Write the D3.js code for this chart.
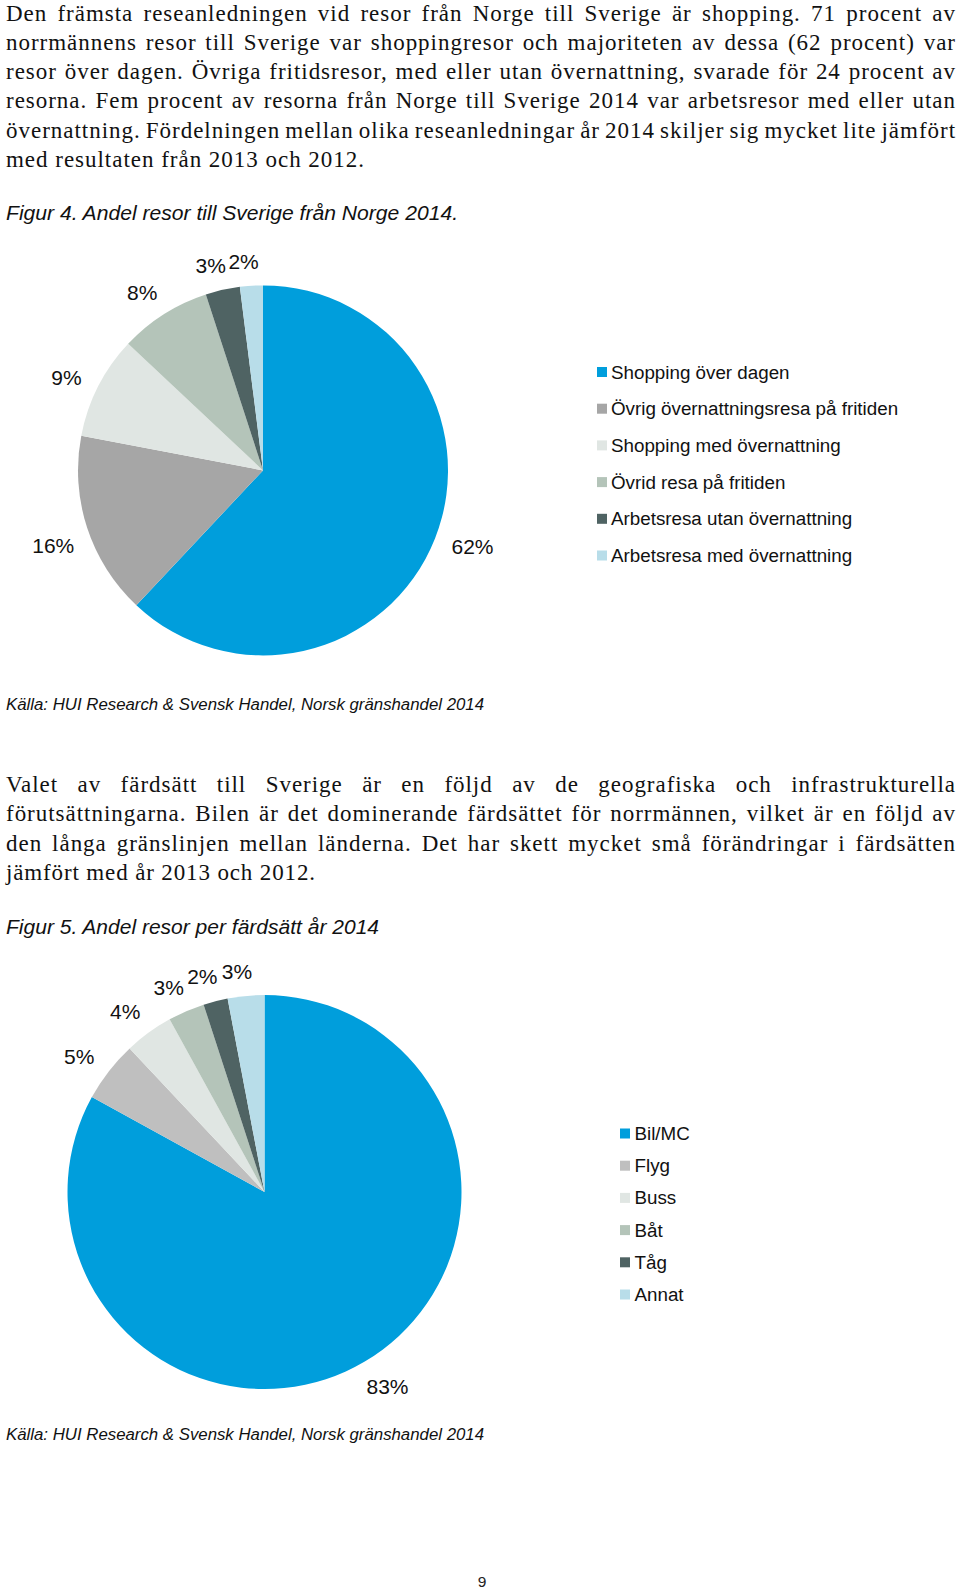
<!DOCTYPE html>
<html><head><meta charset="utf-8">
<script src="https://cdn.jsdelivr.net/npm/d3@7"></script>
<style>body{margin:0;background:#fff}</style>
</head><body><svg id="page" width="960" height="1590"></svg>
<script>
// ---------- DATA ----------
const para1Lines = [
  "Den främsta reseanledningen vid resor från Norge till Sverige är shopping. 71 procent av",
  "norrmännens resor till Sverige var shoppingresor och majoriteten av dessa (62 procent) var",
  "resor över dagen. Övriga fritidsresor, med eller utan övernattning, svarade för 24 procent av",
  "resorna. Fem procent av resorna från Norge till Sverige 2014 var arbetsresor med eller utan",
  "övernattning. Fördelningen mellan olika reseanledningar år 2014 skiljer sig mycket lite jämfört",
  "med resultaten från 2013 och 2012."
];
const para2Lines = [
  "Valet av färdsätt till Sverige är en följd av de geografiska och infrastrukturella",
  "förutsättningarna. Bilen är det dominerande färdsättet för norrmännen, vilket är en följd av",
  "den långa gränslinjen mellan länderna. Det har skett mycket små förändringar i färdsätten",
  "jämfört med år 2013 och 2012."
];
const fig4Title = "Figur 4. Andel resor till Sverige från Norge 2014.";
const fig5Title = "Figur 5. Andel resor per färdsätt år 2014";
const sourceText = "Källa: HUI Research & Svensk Handel, Norsk gränshandel 2014";
const pageNumber = "9";

const fig4Categories = ["Shopping över dagen", "Övrig övernattningsresa på fritiden", "Shopping med övernattning",
  "Övrid resa på fritiden", "Arbetsresa utan övernattning", "Arbetsresa med övernattning"];
const fig4Values = [62, 16, 9, 8, 3, 2];
const fig4Colors = ["#009edc", "#a6a6a6", "#e0e6e3", "#b4c4b9", "#4f6363", "#b8dde9"];

const fig5Categories = ["Bil/MC", "Flyg", "Buss", "Båt", "Tåg", "Annat"];
const fig5Values = [83, 5, 4, 3, 2, 3];
const fig5Colors = ["#009edc", "#bfbfbf", "#e0e6e3", "#b4c4b9", "#4f6363", "#b8dde9"];

// ---------- DRAW ----------
const svg = d3.select("#page");
const SERIF = "'Liberation Serif', 'Times New Roman', serif";
const SANS = "'Liberation Sans', Arial, Helvetica, sans-serif";
const bodySize = 23;

function measure(str, ls) {
  const t = svg.append("text").attr("font-family", SERIF).attr("font-size", bodySize)
    .style("letter-spacing", ls + "px").text(str);
  const w = t.node().getComputedTextLength();
  t.remove();
  return w;
}

// letter spacing derived from the final (unjustified) line width
const refLine = para1Lines[para1Lines.length - 1];
const refW0 = measure(refLine, 0);
const letterSp = Math.max(0, (359 - refW0) / refLine.length);

function drawParagraph(lines, x0, y0, lh, fullW, lastW) {
  lines.forEach((line, i) => {
    const y = y0 + i * lh;
    const t = svg.append("text").attr("font-family", SERIF).attr("font-size", bodySize)
      .attr("fill", "#111").style("letter-spacing", letterSp + "px").attr("y", y);
    if (i === lines.length - 1) {
      t.attr("x", x0).attr("textLength", lastW).attr("lengthAdjust", "spacing").text(line);
    } else {
      const words = line.split(" ");
      const ws = words.map(w => measure(w, letterSp));
      const total = d3.sum(ws);
      const gap = (fullW - total) / (words.length - 1);
      let x = x0;
      words.forEach((w, j) => {
        t.append("tspan").attr("x", x).text(w);
        x += ws[j] + gap;
      });
    }
  });
}

drawParagraph(para1Lines, 6, 20.5, 29.3, 950, 359);
drawParagraph(para2Lines, 6, 792, 29.4, 950, 310);

function italicLine(str, x, y, size, w) {
  svg.append("text").attr("x", x).attr("y", y).attr("font-family", SANS)
    .attr("font-style", "italic").attr("font-size", size).attr("fill", "#111")
    .attr("textLength", w).attr("lengthAdjust", "spacingAndGlyphs").text(str);
}
italicLine(fig4Title, 6, 219.5, 20, 452);
italicLine(sourceText, 6, 710, 16, 478);
italicLine(fig5Title, 6, 934, 20, 373);
italicLine(sourceText, 6, 1440, 16, 478);

svg.append("text").attr("x", 482).attr("y", 1586.5).attr("text-anchor", "middle")
  .attr("font-family", SANS).attr("font-size", 15.5).attr("fill", "#222").text(pageNumber);

function drawPie(cfg) {
  const g = svg.append("g").attr("transform", `translate(${cfg.cx},${cfg.cy})`);
  const pie = d3.pie().sort(null).value(d => d.v);
  const data = cfg.values.map((v, i) => ({ v, cat: cfg.categories[i], color: cfg.colors[i] }));
  const arcs = pie(data);
  const arc = d3.arc().innerRadius(0).outerRadius(cfg.r);
  g.selectAll("path.slice").data(arcs).join("path").attr("class", "slice")
    .attr("d", arc).attr("fill", d => d.data.color);
  const fmt = d => d3.format(".0f")(d.data.v) + "%";
  arcs.forEach(d => {
    const t = g.append("text").attr("font-family", SANS).attr("font-size", 21)
      .attr("fill", "#111").attr("text-anchor", "middle").attr("dy", "0.35em").text(fmt(d));
    const w = t.node().getComputedTextLength();
    const h = 15;
    const a = (d.startAngle + d.endAngle) / 2 - 0.03;
    const sx = Math.sin(a), sy = -Math.cos(a);
    const dist = cfg.r + 15.5 + Math.abs(sx) * w / 2 + Math.abs(sy) * h / 2;
    t.attr("x", sx * dist).attr("y", sy * dist);
  });
  // legend
  const lg = svg.append("g").attr("transform", `translate(${cfg.lx},${cfg.ly})`);
  const rows = lg.selectAll("g").data(data).join("g")
    .attr("transform", (d, i) => `translate(0,${i * cfg.lstep})`);
  rows.append("rect").attr("x", 0).attr("y", -5).attr("width", 10).attr("height", 10)
    .attr("fill", d => d.color);
  rows.append("text").attr("x", cfg.ltx).attr("y", 6.5).attr("font-family", SANS)
    .attr("font-size", 18.8).attr("fill", "#111").text(d => d.cat);
}

drawPie({ cx: 263, cy: 470.4, r: 185, values: fig4Values, categories: fig4Categories, colors: fig4Colors,
  lx: 597, ly: 372, lstep: 36.7, ltx: 14 });
drawPie({ cx: 264.5, cy: 1192, r: 197, values: fig5Values, categories: fig5Categories, colors: fig5Colors,
  lx: 620, ly: 1133.5, lstep: 32.2, ltx: 14.5 });
</script>
</body></html>
